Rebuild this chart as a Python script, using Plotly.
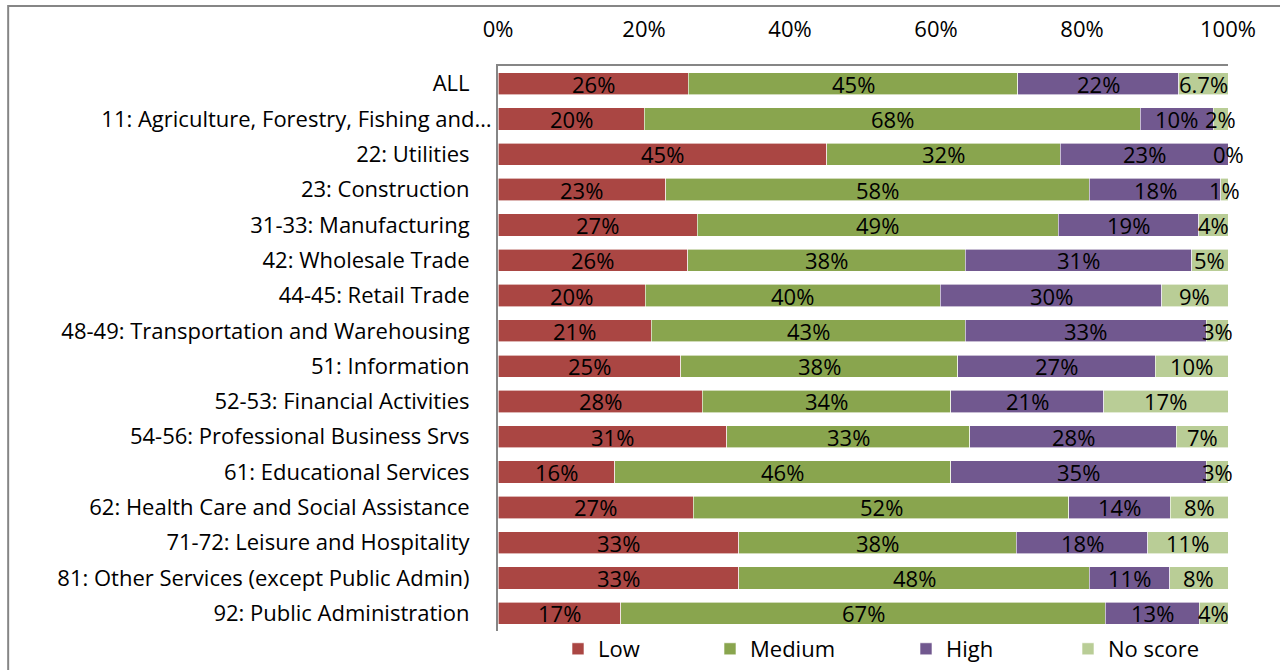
import plotly.graph_objects as go

#---------------------------------- SCORE RANGE BY INDUSTRY ----------------------------------

industries = [
    "ALL",
    "11: Agriculture, Forestry, Fishing and…",
    "22: Utilities",
    "23: Construction",
    "31-33: Manufacturing",
    "42: Wholesale Trade",
    "44-45: Retail Trade",
    "48-49: Transportation and Warehousing",
    "51: Information",
    "52-53: Financial Activities",
    "54-56: Professional Business Srvs",
    "61: Educational Services",
    "62: Health Care and Social Assistance",
    "71-72: Leisure and Hospitality",
    "81: Other Services (except Public Admin)",
    "92: Public Administration",
]

low = [26, 20, 45, 23, 27, 26, 20, 21, 25, 28, 31, 16, 27, 33, 33, 17]
medium = [45, 68, 32, 58, 49, 38, 40, 43, 38, 34, 33, 46, 52, 38, 48, 67]
high = [22, 10, 23, 18, 19, 31, 30, 33, 27, 21, 28, 35, 14, 18, 11, 13]
no_score = [6.7, 2, 0, 1, 4, 5, 9, 3, 10, 17, 7, 3, 8, 11, 8, 4]

series = ["Low", "Medium", "High", "No score"]
colors = ["#AA4643", "#89A54E", "#71588F", "#B9CD96"]

FONT = "Open Sans"
SIZE = 22

# excel keeps a trailing space on the labels, the truncated one has none
labels = [s if s.endswith("…") else s + "\u2003" for s in industries]

W, H, T = 1280, 670, 66
PAPER_H = H - T              # bottom margin is 0, the legend lives inside the paper area
BOTTOM = (H - 631) / PAPER_H  # plot area ends at y=631 px


def plotStacked(data, names, colors):
    layout = go.Layout(
        width=W, height=H,
        paper_bgcolor="white", plot_bgcolor="white",
        barmode="stack", barnorm="percent", bargap=0.37,
        margin=dict(l=498, r=52, t=T, b=0),
        font=dict(family=FONT, size=SIZE, color="black"),
        xaxis=dict(side="top", range=[0, 100], tickvals=[0, 20, 40, 60, 80, 100],
                   ticktext=["0%", "20%", "40%", "60%", "80%", "100%"],
                   showgrid=False, zeroline=False, showline=True, linecolor="#868686",
                   linewidth=2, ticks="", ticklabelstandoff=18, fixedrange=True),
        yaxis=dict(autorange="reversed", domain=[BOTTOM, 1], showgrid=False, zeroline=False,
                   showline=True, linecolor="#868686", linewidth=2, ticks="",
                   ticklabelstandoff=0),
        showlegend=True,
    )
    fig = go.Figure(layout=layout)

    # one legend per series so each entry sits where excel put it
    legend_x = [(px - 498) / 730 for px in [558, 710, 906, 1068]]
    for i, (name, vals, color) in enumerate(zip(names, data, colors)):
        lg = "legend" if i == 0 else f"legend{i + 1}"
        fig.add_trace(go.Bar(
            y=labels, x=vals, name=name, orientation="h", legend=lg,
            marker=dict(color=color, line=dict(color="white", width=0.6)),
            hoverinfo="x+name",
        ))
        fig.update_layout({lg: dict(x=legend_x[i], xanchor="left", y=0, yanchor="bottom",
                                    orientation="h", bgcolor="rgba(0,0,0,0)",
                                    font=dict(family=FONT, size=SIZE))})

    # data labels centred on each segment (percent of row total)
    for r, lab in enumerate(labels):
        total = sum(d[r] for d in data)
        start = 0
        for d in data:
            v = d[r]
            share = v / total * 100
            fig.add_annotation(x=start + share / 2, y=lab, xref="x", yref="y",
                               text=f"{v:g}%", showarrow=False,
                               font=dict(family=FONT, size=SIZE, color="black"))
            start += share

    # grey frame of the chart object, runs off the right and bottom edges
    fig.add_shape(type="rect", xref="paper", yref="paper",
                  x0=-0.671, x1=1.2, y0=-0.2, y1=(H - 6) / PAPER_H,
                  line=dict(color="#868686", width=2), layer="below")
    return fig


fig = plotStacked([low, medium, high, no_score], series, colors)
fig.write_html("out.html", config={"displayModeBar": False},
               post_script="document.body.style.margin='0';")
